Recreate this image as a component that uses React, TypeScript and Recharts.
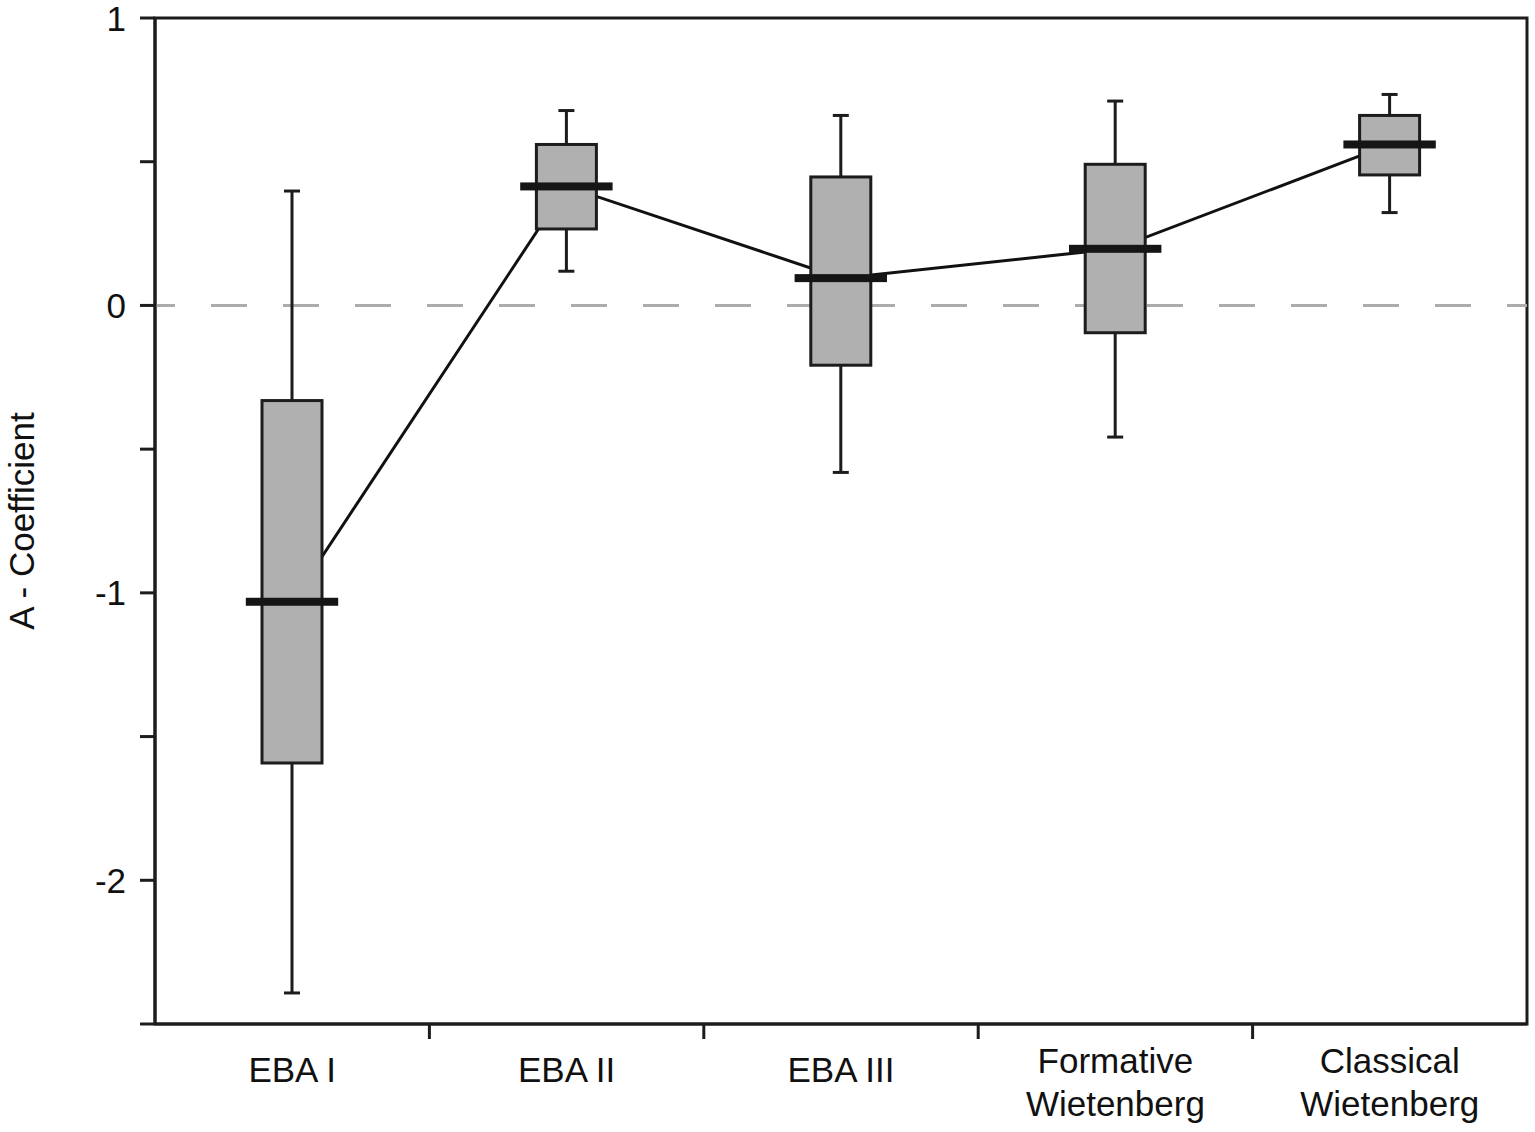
import React from "react";
import { ComposedChart, Bar, Line, XAxis, YAxis, ReferenceLine, ReferenceArea, Label } from "recharts";

const categories = ["EBA I", "EBA II", "EBA III", "Formative\nWietenberg", "Classical\nWietenberg"];
const whiskerLow = [-2.392, 0.119, -0.581, -0.458, 0.323];
const quartileLow = [-1.592, 0.266, -0.208, -0.095, 0.454];
const medians = [-1.031, 0.414, 0.095, 0.197, 0.56];
const quartileHigh = [-0.331, 0.56, 0.447, 0.491, 0.661];
const whiskerHigh = [0.398, 0.678, 0.661, 0.711, 0.734];
const yTicks = [1, 0.5, 0, -0.5, -1, -1.5, -2, -2.5];

const data = categories.map((name, i) => ({
  name,
  range: [whiskerLow[i], whiskerHigh[i]],
  q1: quartileLow[i],
  median: medians[i],
  q3: quartileHigh[i],
}));

const INK = "#1c1c1c";
const FONT = "'Liberation Sans', Arial, sans-serif";

// box + whiskers, positioned from the bar's own range rectangle
const BoxShape = (props: any) => {
  const { x, y, width, height, payload } = props;
  const [lo, hi] = payload.range;
  const perUnit = height / (hi - lo);
  const toY = (v: number) => y + (hi - v) * perUnit;
  const cx = x + width / 2;
  const capHalf = 8;
  const medHalf = width * 0.77;
  return (
    <g>
      <line x1={cx} x2={cx} y1={toY(hi)} y2={toY(lo)} stroke={INK} strokeWidth={3} />
      <line x1={cx - capHalf} x2={cx + capHalf} y1={toY(hi)} y2={toY(hi)} stroke={INK} strokeWidth={3} />
      <line x1={cx - capHalf} x2={cx + capHalf} y1={toY(lo)} y2={toY(lo)} stroke={INK} strokeWidth={3} />
      <rect
        x={x}
        y={toY(payload.q3)}
        width={width}
        height={toY(payload.q1) - toY(payload.q3)}
        fill="#b0b0b0"
        stroke={INK}
        strokeWidth={3}
      />
      <rect x={cx - medHalf} y={toY(payload.median) - 4} width={medHalf * 2} height={8} fill="#151515" />
    </g>
  );
};

const CategoryTick = (props: any) => {
  const { x, y, payload, index, width, visibleTicksCount } = props;
  const band = (width || 1372) / (visibleTicksCount || 5);
  const lines = String(payload.value).split("\n");
  const first = lines.length > 1 ? 49 : 58;
  return (
    <g>
      {index > 0 && (
        <line x1={x - band / 2} x2={x - band / 2} y1={y} y2={y + 15} stroke={INK} strokeWidth={3} />
      )}
      <text x={x} y={y + first} textAnchor="middle" fontSize={35} fontFamily={FONT} fill="#111">
        {lines.map((l, i) => (
          <tspan key={i} x={x} dy={i === 0 ? 0 : 43}>
            {l}
          </tspan>
        ))}
      </text>
    </g>
  );
};

const ValueTick = (props: any) => {
  const { x, y, payload } = props;
  const v = payload.value;
  return (
    <g>
      <line x1={x - 15} x2={x} y1={y} y2={y} stroke={INK} strokeWidth={3} />
      {Number.isInteger(v) && (
        <text x={x - 29} y={y} textAnchor="end" dominantBaseline="central" fontSize={35} fontFamily={FONT} fill="#111">
          {v}
        </text>
      )}
    </g>
  );
};

const YTitle = (props: any) => {
  const vb = props.viewBox;
  const cx = vb.x + 21;
  const cy = vb.y + vb.height / 2;
  return (
    <text
      x={cx}
      y={cy}
      transform={`rotate(-90 ${cx} ${cy})`}
      textAnchor="middle"
      dominantBaseline="central"
      fontSize={35}
      fontFamily={FONT}
      fill="#111"
    >
      A - Coefficient
    </text>
  );
};

export default function App() {
  return (
    <div style={{ width: 1535, height: 1132, background: "#fff" }}>
      <style>{`body{margin:0}`}</style>
      <ComposedChart width={1535} height={1132} data={data} margin={{ top: 18, right: 8, bottom: 0, left: 0 }}>
        <XAxis
          dataKey="name"
          height={108}
          interval={0}
          tickSize={0}
          tickMargin={0}
          tickLine={false}
          axisLine={{ stroke: INK, strokeWidth: 3 }}
          tick={<CategoryTick />}
        />
        <YAxis
          type="number"
          domain={[-2.5, 1]}
          ticks={yTicks}
          width={155}
          tickSize={0}
          tickMargin={0}
          tickLine={false}
          interval={0}
          allowDataOverflow
          axisLine={{ stroke: INK, strokeWidth: 3 }}
          tick={<ValueTick />}
        >
          <Label content={<YTitle />} />
        </YAxis>
        {/* plot frame */}
        <ReferenceArea y1={-2.5} y2={1} ifOverflow="visible" fill="none" fillOpacity={0} stroke={INK} strokeWidth={3} zIndex={50} />
        <ReferenceLine y={0} stroke="#acacac" strokeWidth={3} strokeDasharray="36 36" strokeDashoffset={16} zIndex={100} />
        <Line
          dataKey="median"
          type="linear"
          stroke="#111"
          strokeWidth={3}
          dot={false}
          activeDot={false}
          isAnimationActive={false}
          zIndex={200}
        />
        <Bar dataKey="range" barSize={60} shape={<BoxShape />} isAnimationActive={false} zIndex={300} />
      </ComposedChart>
    </div>
  );
}
